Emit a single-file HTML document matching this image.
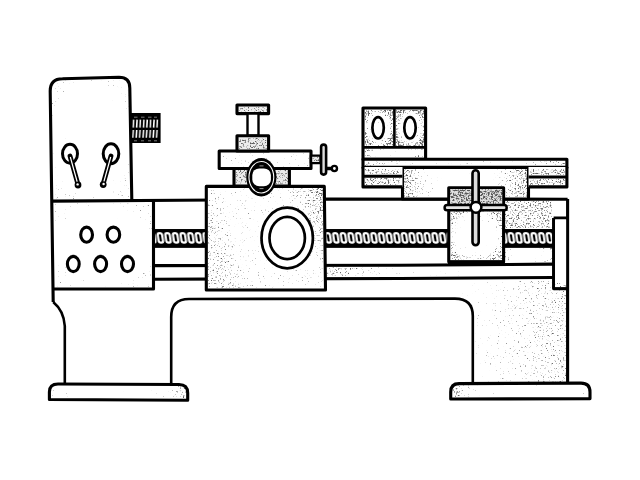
<!DOCTYPE html>
<html><head><meta charset="utf-8"><style>
html,body{margin:0;padding:0;background:#fff;width:640px;height:480px;overflow:hidden;font-family:"Liberation Sans",sans-serif}
svg{display:block}
</style></head><body>
<svg width="640" height="480" viewBox="0 0 640 480">
<defs>
<pattern id="screw" x="4.44" y="0" width="7.63" height="480" patternUnits="userSpaceOnUse" patternTransform="skewX(9)">
<rect width="7.63" height="480" fill="#000"/>
<rect x="1.6" y="233.1" width="4.43" height="9.6" rx="1.9" fill="#000" stroke="#fff" stroke-width="2.2"/>
</pattern>
<pattern id="knurl" x="131.8" y="0" width="3.4" height="480" patternUnits="userSpaceOnUse">
<path d="M1.9,119.6 L1.4,127.6 M1.5,130 L1.0,137.8" stroke="#fff" stroke-width="1.5"/>
</pattern>
<filter id="stip" x="0" y="0" width="640" height="480" filterUnits="userSpaceOnUse" color-interpolation-filters="sRGB">
<feTurbulence type="fractalNoise" baseFrequency="0.6" numOctaves="2" seed="5" result="noise"/>
<feColorMatrix in="noise" type="matrix" values="0 0 0 0 0  0 0 0 0 0  0 0 0 0 0  1 0 0 0 0" result="nA"/>
<feComposite in="nA" in2="SourceAlpha" operator="arithmetic" k1="0" k2="5" k3="5" k4="-7.0" result="d"/>
<feGaussianBlur in="d" stdDeviation="0.55" result="b"/>
<feComponentTransfer in="b"><feFuncA type="linear" slope="0.6"/></feComponentTransfer>
</filter>
<radialGradient id="vigS" cx="0.5" cy="0.5" r="0.55"><stop offset="0" stop-opacity="0.55"/><stop offset="0.75" stop-opacity="0.62"/><stop offset="1" stop-opacity="0.78"/></radialGradient>
<radialGradient id="vigM" cx="0.5" cy="0.5" r="0.55"><stop offset="0" stop-opacity="0.58"/><stop offset="0.7" stop-opacity="0.66"/><stop offset="1" stop-opacity="0.88"/></radialGradient>
<radialGradient id="vigD" cx="0.5" cy="0.5" r="0.55"><stop offset="0" stop-opacity="0.6"/><stop offset="0.6" stop-opacity="0.68"/><stop offset="0.85" stop-opacity="0.86"/><stop offset="1" stop-opacity="0.97"/></radialGradient>
<radialGradient id="vigXS" cx="0.5" cy="0.5" r="0.55"><stop offset="0" stop-opacity="0.5"/><stop offset="0.8" stop-opacity="0.58"/><stop offset="1" stop-opacity="0.7"/></radialGradient>
<linearGradient id="apG" x1="0" y1="0.3" x2="1" y2="0"><stop offset="0" stop-opacity="0.8"/><stop offset="0.2" stop-opacity="0.7"/><stop offset="0.7" stop-opacity="0.7"/><stop offset="0.9" stop-opacity="0.86"/><stop offset="1" stop-opacity="0.95"/></linearGradient>
<linearGradient id="footL" x1="0" y1="0" x2="1" y2="0"><stop offset="0" stop-opacity="0.66"/><stop offset="0.3" stop-opacity="0.58"/><stop offset="0.8" stop-opacity="0.6"/><stop offset="1" stop-opacity="0.86"/></linearGradient>
<linearGradient id="footR" x1="0" y1="0" x2="1" y2="0"><stop offset="0" stop-opacity="0.88"/><stop offset="0.22" stop-opacity="0.62"/><stop offset="1" stop-opacity="0.6"/></linearGradient>
<linearGradient id="box402G" x1="0" y1="0" x2="1" y2="0"><stop offset="0" stop-opacity="0.92"/><stop offset="0.12" stop-opacity="0.78"/><stop offset="0.3" stop-opacity="0.62"/><stop offset="0.65" stop-opacity="0.62"/><stop offset="0.85" stop-opacity="0.8"/><stop offset="1" stop-opacity="0.92"/></linearGradient>
<linearGradient id="legG" x1="0" y1="0" x2="1" y2="0"><stop offset="0" stop-opacity="0.62"/><stop offset="0.35" stop-opacity="0.7"/><stop offset="1" stop-opacity="0.8"/></linearGradient>
<linearGradient id="stripG" x1="0" y1="0" x2="1" y2="0"><stop offset="0" stop-opacity="0.86"/><stop offset="0.25" stop-opacity="0.7"/><stop offset="0.5" stop-opacity="0.6"/><stop offset="1" stop-opacity="0.6"/></linearGradient>
<linearGradient id="barG" x1="0" y1="0" x2="1" y2="0"><stop offset="0" stop-opacity="0.84"/><stop offset="0.3" stop-opacity="0.68"/><stop offset="0.7" stop-opacity="0.66"/><stop offset="1" stop-opacity="0.84"/></linearGradient>
</defs>
<g fill="none" stroke="#000" stroke-width="3.1" stroke-linejoin="round">

<!-- bed lines -->
<path d="M51.9,201.1 L180,200.3 L330,199.1 L567.6,199.2"/>
<rect x="153.5" y="229.3" width="400" height="18.2" fill="#000" stroke="none"/>
<rect x="153.5" y="229.3" width="400" height="18.2" fill="url(#screw)" stroke="none"/>
<rect x="153.5" y="229.3" width="400" height="2.6" fill="#000" stroke="none"/>
<rect x="153.5" y="244.5" width="400" height="3" fill="#000" stroke="none"/>
<path d="M153.5,265.6 L400,265.3 L553.6,264.1"/>
<path d="M153.5,279.2 L400,278.5 L553.6,277.5"/>
<path d="M567.6,199 L567.6,384"/>
<path d="M553.6,218 L567.6,218 M553.6,218 L553.6,288.6 L567.6,288.6"/>
<rect x="555.1" y="219.5" width="11" height="67.6" fill="#fff" stroke="none"/>

<!-- headstock -->
<path d="M53.2,302 L50.2,91 Q50.2,78.7 62.5,78.7 L119,77.3 Q129.8,77.3 129.8,88 L131.8,200"/>
<rect x="130.6" y="113" width="30" height="30" fill="#000" stroke="none"/>
<rect x="132" y="115" width="27" height="26" fill="url(#knurl)" stroke="none"/>
<path d="M134,117.2 h3.5 M141,117.2 h3.5 M148,117.2 h3.5 M154,117.2 h3 M134,140.8 h3 M141,140.8 h3 M148,140.8 h3 M154,140.8 h3" stroke="#888" stroke-width="0.9"/>
<path d="M153.5,200 L153.5,289 L53,289"/>
<ellipse cx="70" cy="153.75" rx="7.5" ry="9.4" stroke-width="3"/>
<ellipse cx="111" cy="153.75" rx="7.8" ry="9.9" stroke-width="3"/>
<path d="M70,156 L78,184.5 M111,156 L103,184.5" stroke-width="4.8" stroke-linecap="round"/>
<path d="M70.3,157 L77.5,183 M110.7,157 L103.5,183" stroke="#fff" stroke-width="1.2"/>
<circle cx="78" cy="185" r="3.4" fill="#000" stroke="none"/>
<circle cx="103.2" cy="184.6" r="3.4" fill="#000" stroke="none"/>
<circle cx="77.6" cy="184.4" r="1.2" fill="#fff" stroke="none"/>
<circle cx="103.6" cy="184" r="1.2" fill="#fff" stroke="none"/>
<g stroke-width="3.1">
<ellipse cx="86.6" cy="234.7" rx="5.9" ry="7.6"/>
<ellipse cx="113.4" cy="234.7" rx="6.3" ry="7.6"/>
<ellipse cx="73.3" cy="264" rx="5.9" ry="7.6"/>
<ellipse cx="100.6" cy="264" rx="6" ry="7.6"/>
<ellipse cx="127.5" cy="264" rx="6" ry="7.6"/>
</g>

<!-- legs and arch -->
<path d="M53.2,302 C58,306 64,313 64.8,326 L64.8,384" stroke-width="2.6"/>
<path d="M171.2,384 L171.2,317 Q171.2,299 189,299 L455,298.6 Q472.8,298.6 472.8,316 L472.8,384" stroke-width="2.6"/>
<path d="M49.4,399.5 L49.4,392 Q49.4,384 58,384 L179,384.5 Q187.7,384.5 187.7,393 L187.7,400.2 Z" fill="#fff"/>
<path d="M450.7,399 L450.7,392 Q450.7,383.6 459,383.6 L581,383.1 Q590,383.1 590,392 L590,398.6 Z" fill="#fff"/>

<!-- apron -->
<path d="M206.3,186.4 L324.3,186.4 L325.5,290 L206.3,290 Z" fill="#fff"/>
<ellipse cx="287.2" cy="238" rx="25.7" ry="30.3" fill="#fff" stroke-width="2.7"/>
<ellipse cx="287.2" cy="238" rx="17.7" ry="21.1" stroke-width="2.7"/>

<!-- compound -->
<rect x="234" y="168.5" width="55.4" height="17.5" fill="#ececec"/>
<rect x="219.2" y="151" width="91.8" height="17.5" fill="#fff"/>
<rect x="237" y="105" width="31.6" height="8.6" fill="#eeeeee"/>
<rect x="247.5" y="113.6" width="11" height="22.2" fill="#fff" stroke-width="2.4"/>
<rect x="237" y="135.8" width="31.6" height="15.2" fill="#ececec"/>
<rect x="311" y="155.6" width="9.5" height="7.5" fill="#e8e8e8" stroke-width="2.4"/>
<rect x="321.1" y="144.6" width="5" height="30" rx="2.5" fill="#ddd" stroke-width="2.6"/>
<path d="M326.8,168.5 L332,168.5" stroke-width="3.5"/>
<circle cx="334.4" cy="168.5" r="2.6" fill="#fff" stroke-width="2.4"/>

<!-- tailstock -->
<rect x="402.5" y="167" width="126" height="32" fill="#fff"/>
<rect x="363" y="108" width="62.6" height="51.2" fill="#fff"/>
<path d="M394.4,108 L394.4,147.4 M363,147.4 L425.6,147.4" stroke-width="2.6"/>
<ellipse cx="378.1" cy="127.8" rx="5.7" ry="10.7" fill="#fff" stroke-width="2.7"/>
<ellipse cx="410" cy="127.8" rx="5.7" ry="10.7" fill="#fff" stroke-width="2.7"/>
<rect x="363" y="159.2" width="203.9" height="8.2" fill="#fff"/>
<rect x="363" y="167" width="39.5" height="19.9" fill="#fff" stroke="none"/>
<path d="M363,167 L363,186.9 L402.5,186.9 M363,176.2 L402.5,176.2" />
<rect x="528.5" y="167" width="38.4" height="19.9" fill="#fff" stroke="none"/>
<path d="M566.9,167 L566.9,186.9 L528.5,186.9 M528.5,177 L566.9,177" />
<rect x="448.75" y="187.8" width="54.85" height="74" fill="#fff"/>
<rect x="450.2" y="189.3" width="52" height="15.8" fill="#e0e0e0" stroke="none"/>
<line x1="448" y1="262.5" x2="504.5" y2="262.5" stroke-width="4"/>
</g>

<!-- stipple layer -->
<g filter="url(#stip)" stroke="none" fill="#000">
<rect x="52" y="80" width="77" height="119" fill="url(#vigXS)"/>
<rect x="54.5" y="202.5" width="97.5" height="85" fill="url(#vigXS)"/>
<path fill-rule="evenodd" fill="url(#apG)" d="M207.8,188 L323,188 L324,288.5 L207.8,288.5 Z M313,238 A25.7,30.3 0 1 0 261.5,238 A25.7,30.3 0 1 0 313,238 Z"/>
<rect x="238.5" y="106.5" width="28.6" height="5.6" fill-opacity="0.86"/>
<rect x="238.5" y="137.3" width="28.6" height="12.2" fill-opacity="0.88"/>
<path fill-rule="evenodd" fill-opacity="0.86" d="M235.5,170 L288,170 L288,184.5 L235.5,184.5 Z M276.1,177.25 A14.75,18.95 0 1 0 246.6,177.25 A14.75,18.95 0 1 0 276.1,177.25 Z"/>
<path fill-rule="evenodd" fill-opacity="0.68" d="M220.7,152.5 L309.5,152.5 L309.5,167 L220.7,167 Z M276.1,177.25 A14.75,18.95 0 1 0 246.6,177.25 A14.75,18.95 0 1 0 276.1,177.25 Z"/>
<rect x="312.2" y="156.8" width="7.2" height="5.1" fill-opacity="0.9"/>
<rect x="364.5" y="109.5" width="28.5" height="36.5" fill="url(#vigD)"/>
<rect x="395.8" y="109.5" width="28.4" height="36.5" fill="url(#vigD)"/>
<rect x="364.5" y="149" width="59.7" height="8.6" fill="url(#vigM)"/>
<rect x="364.5" y="160.7" width="201" height="5.2" fill="url(#barG)"/>
<rect x="364.5" y="168.5" width="36.5" height="6.2" fill-opacity="0.88"/>
<rect x="364.5" y="177.7" width="36.5" height="7.7" fill-opacity="0.88"/>
<rect x="530" y="168.5" width="35.4" height="7" fill-opacity="0.88"/>
<rect x="530" y="178.5" width="35.4" height="6.9" fill-opacity="0.88"/>
<rect x="404" y="168.5" width="123" height="29" fill="url(#box402G)"/>
<rect x="450.2" y="189.3" width="52" height="15.8" fill-opacity="0.94"/>
<rect x="450.2" y="210.4" width="52" height="50" fill="url(#vigM)"/>
<rect x="505" y="200.8" width="47.1" height="27.5" fill-opacity="0.86"/>
<rect x="505" y="247.5" width="47.1" height="15.3" fill="url(#vigS)"/>
<rect x="327" y="266.9" width="225" height="9.3" fill="url(#stripG)"/>
<path d="M456,280.4 L566.1,280.4 L566.1,382 L474.2,382 L474.2,316 Q474.2,297 456,297 Z" fill="url(#legG)"/>
<rect x="51" y="385.8" width="135" height="12.3" fill="url(#footL)"/>
<rect x="452.2" y="385" width="136.3" height="12.3" fill="url(#footR)"/>
</g>
<g fill="none" stroke="#000" stroke-width="3.1" stroke-linejoin="round">
<ellipse cx="261.35" cy="177.25" rx="15.1" ry="19.2" fill="#000" stroke="none"/>
<ellipse cx="261.35" cy="177.25" rx="12.4" ry="15.7" stroke="#fff" stroke-width="1.1"/>
<rect x="252.3" y="168.4" width="18.6" height="17.8" rx="7" ry="6.5" fill="#fff" stroke="none"/>
<path d="M259.5,165.9 h4 M259.5,188.6 h4" stroke="#bbb" stroke-width="0.8"/>
<rect x="472.5" y="170.2" width="6.2" height="75" rx="3.1" fill="#ddd" stroke-width="2.6"/>
<rect x="444.6" y="205.1" width="62.1" height="5.2" rx="2.6" fill="#e4e4e4" stroke-width="2.5"/>
<circle cx="476" cy="207.3" r="5.4" fill="#fff" stroke-width="2.5"/>
</g>
</svg>
</body></html>
